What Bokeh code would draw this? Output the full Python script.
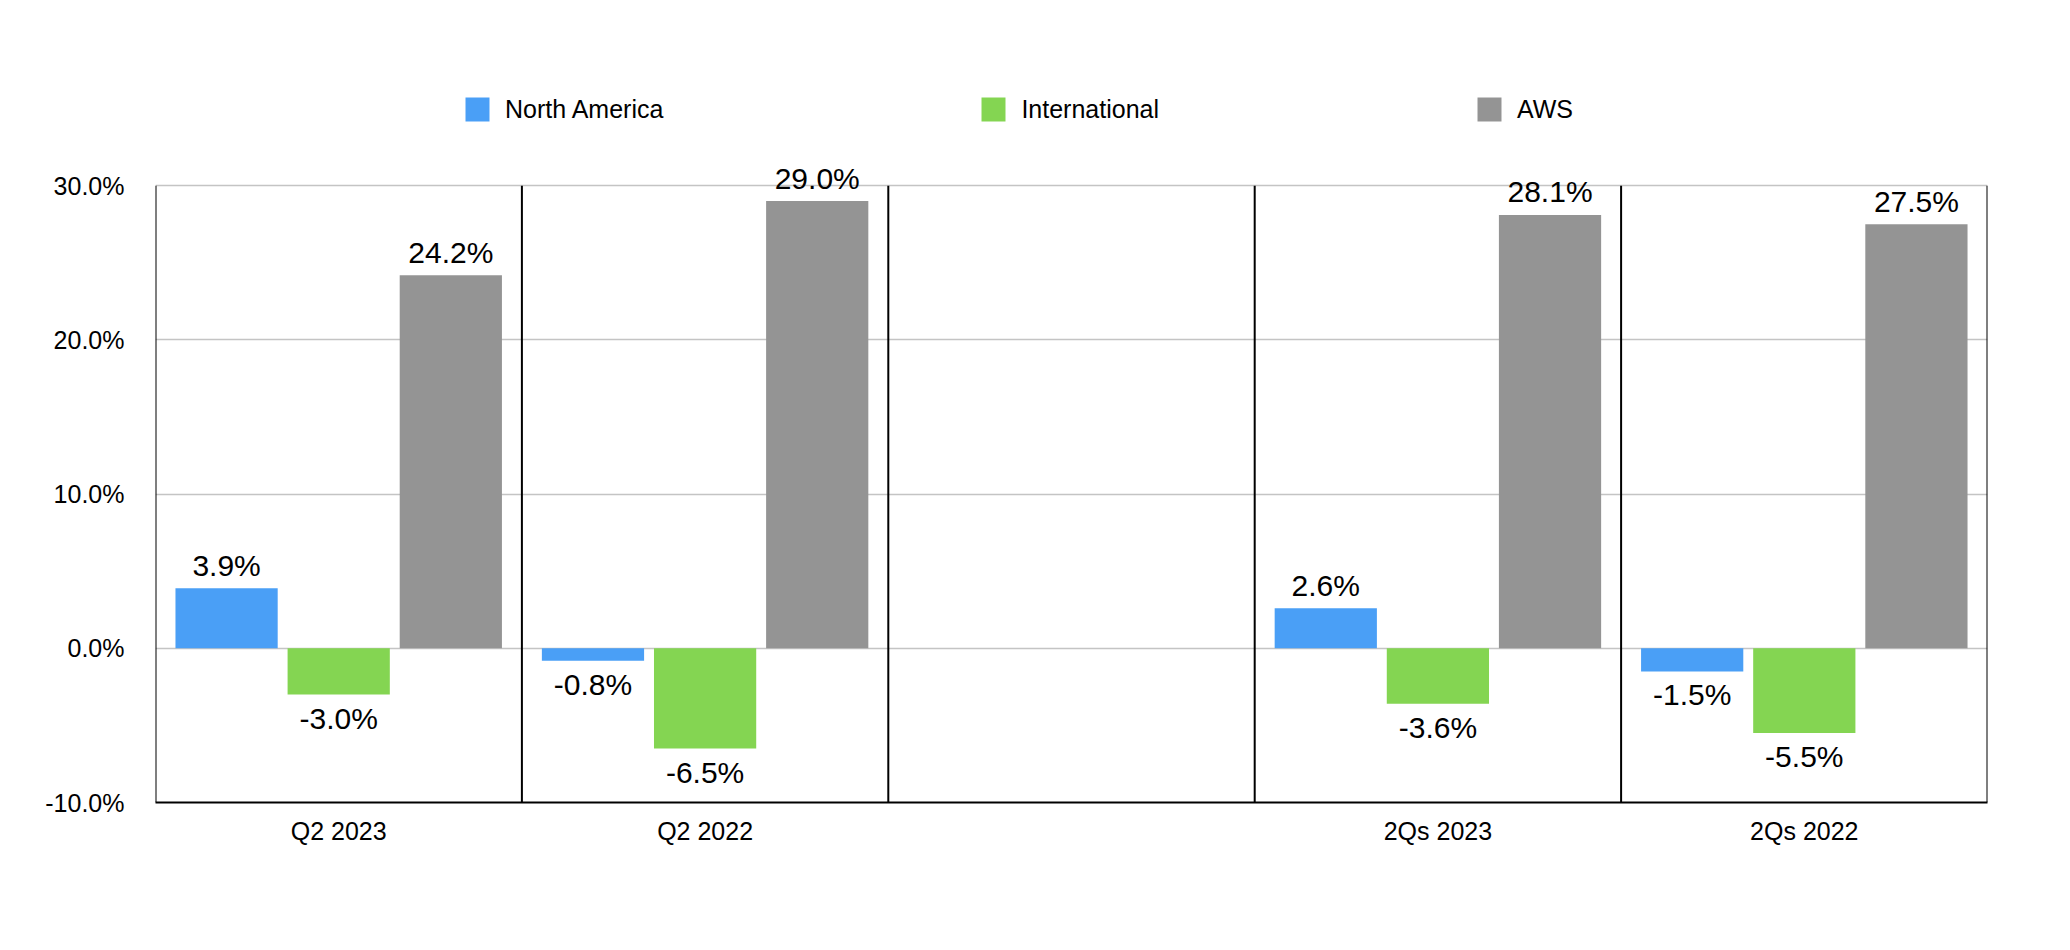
from bokeh.plotting import figure
from bokeh.models import (ColumnDataSource, FactorRange, Range1d, FixedTicker,
                          PrintfTickFormatter, Legend, LegendItem)
from bokeh.transform import dodge
from bokeh.core.properties import value
from bokeh.embed import file_html
from bokeh.resources import INLINE

# ---- data ----
categories = ["Q2 2023", "Q2 2022", " ", "2Qs 2023", "2Qs 2022"]
periods = ["Q2 2023", "Q2 2022", "2Qs 2023", "2Qs 2022"]
series = ["North America", "International", "AWS"]
north_america = [3.9, -0.8, 2.6, -1.5]
international = [-3.0, -6.5, -3.6, -5.5]
aws = [24.2, 29.0, 28.1, 27.5]
y_ticks = [-10, 0, 10, 20, 30]
y_min, y_max = -10, 30
y_view_max = 40  # extra room above the plot area for the legend

colors = ["#4A9FF6", "#84D552", "#949494"]
offsets = [-0.306, 0.0, 0.306]
bar_width = 0.279
FONT = "Liberation Sans"

src = ColumnDataSource(dict(period=periods, na=north_america,
                            intl=international, aws=aws))

p = figure(x_range=FactorRange(*categories, range_padding=0),
           y_range=Range1d(y_min, y_view_max),
           width=2054, height=934, output_backend="svg", toolbar_location=None,
           min_border_left=155, min_border_right=67,
           min_border_top=31, min_border_bottom=132)
p.outline_line_color = None
p.background_fill_color = "white"

renderers = []
for key, col, off in zip(["na", "intl", "aws"], colors, offsets):
    r = p.vbar(x=dodge("period", off, range=p.x_range), top=key, bottom=0,
               width=bar_width, source=src, fill_color=col, line_color=None)
    renderers.append(r)

# value labels: positive above the bar, negative below it
for vals, off in zip([north_america, international, aws], offsets):
    pos = [(per, v) for per, v in zip(periods, vals) if v >= 0]
    neg = [(per, v) for per, v in zip(periods, vals) if v < 0]
    for group, base, yoff in ((pos, "alphabetic", -23), (neg, "top", 7)):
        if not group:
            continue
        sub = ColumnDataSource(dict(x=[g[0] for g in group],
                                    y=[g[1] for g in group],
                                    text=["%.1f%%" % g[1] for g in group]))
        p.text(x=dodge("x", off, range=p.x_range), y="y", text="text", source=sub,
               text_align="center", text_baseline=base, y_offset=yoff,
               text_font=value(FONT), text_font_size="30px", text_color="black")

# category separator lines (the left one doubles as the y axis line)
bounds = list(range(len(categories) + 1))
p.segment(x0=bounds, x1=bounds, y0=[y_min] * len(bounds), y1=[y_max] * len(bounds),
          line_color="black", line_width=2)

# grid
p.xgrid.grid_line_color = None
p.ygrid.grid_line_color = "#C4C4C4"
p.ygrid.grid_line_width = 1.3
p.ygrid.ticker = FixedTicker(ticks=y_ticks)

# axes
p.yaxis.ticker = FixedTicker(ticks=y_ticks)
p.yaxis.formatter = PrintfTickFormatter(format="%.1f%%")
for ax in (p.xaxis[0], p.yaxis[0]):
    ax.axis_line_color = "black"
    ax.axis_line_width = 2
    ax.major_tick_line_color = None
    ax.minor_tick_line_color = None
    ax.major_tick_out = 0
    ax.major_tick_in = 0
    ax.major_label_text_font = FONT
    ax.major_label_text_font_size = "25px"
    ax.major_label_text_color = "black"
p.yaxis.axis_line_color = None
p.yaxis.major_label_standoff = 31
p.xaxis.major_label_standoff = 14

legend = Legend(items=[LegendItem(label=s, renderers=[r]) for s, r in zip(series, renderers)],
                orientation="horizontal", location=(307, 678),
                glyph_width=30, glyph_height=30, label_standoff=13, spacing=315,
                padding=0, margin=0, border_line_color=None,
                background_fill_alpha=0, label_text_font=FONT,
                label_text_font_size="25px", label_text_color="black")
p.add_layout(legend, "center")

open("out.html", "w").write(file_html(p, INLINE))
